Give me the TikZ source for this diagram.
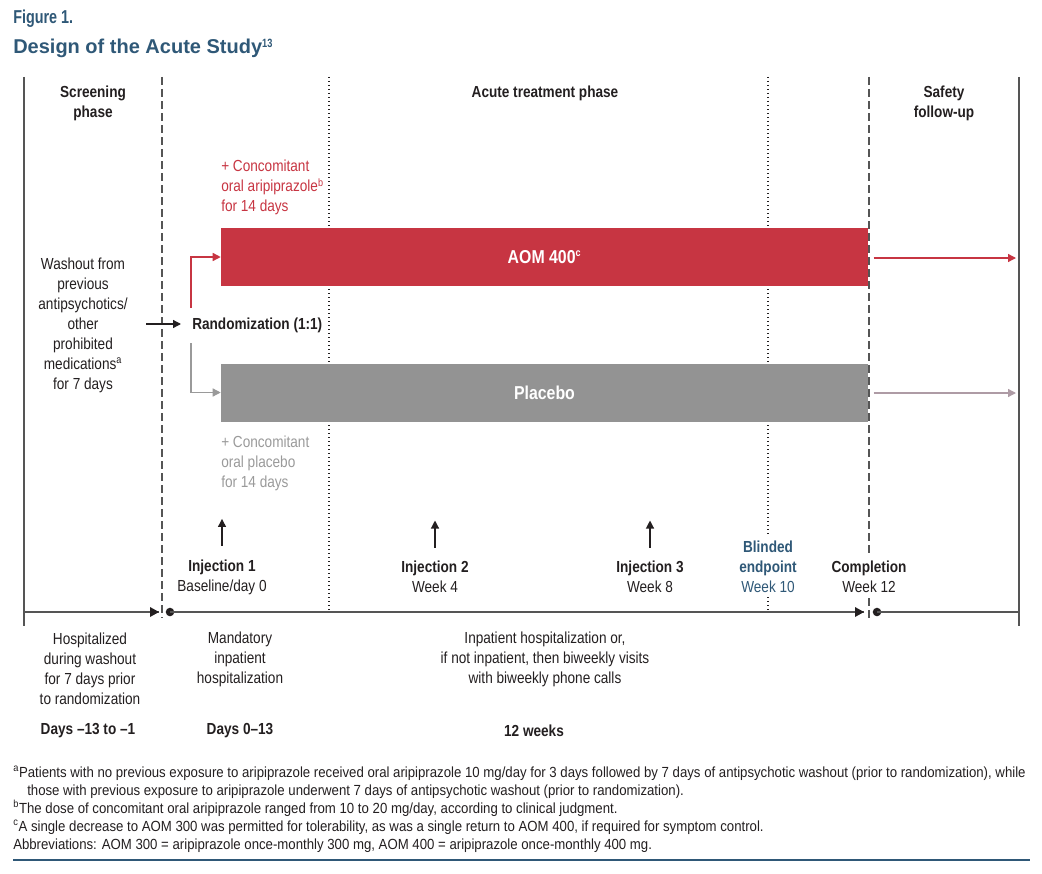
\documentclass[tikz,border=0pt]{standalone}
\usepackage{fontspec}
\setmainfont{Liberation Sans}[FakeStretch=0.85]
\newfontfamily\fnfont{Liberation Sans}[FakeStretch=0.9]
\newfontfamily\figfont{Liberation Sans}[FakeStretch=0.77]
\newfontfamily\ttlfont{Liberation Sans}
\usetikzlibrary{arrows.meta}
\definecolor{navy}{HTML}{2F5877}
\definecolor{aomred}{HTML}{C73542}
\definecolor{plgray}{HTML}{939393}
\definecolor{txt}{HTML}{231F20}
\definecolor{mauve}{HTML}{AE9BA5}
\definecolor{lgray}{HTML}{9A9A9A}
\definecolor{linec}{HTML}{555555}
\tikzset{
  lbl/.style={align=center, inner sep=0pt, text=txt, font=\fontsize{12}{15}\selectfont},
  hdr/.style={lbl, font=\fontsize{12}{15}\selectfont\bfseries},
  note/.style={align=left, anchor=west, inner sep=0pt, font=\fontsize{12}{15}\selectfont},
  bar/.style={inner sep=0pt, minimum width=485.25pt, minimum height=43.5pt, text=white, font=\fontsize{14}{15}\selectfont\bfseries},
  dashv/.style={linec, line width=1.2pt, dash pattern=on 6pt off 3pt},
  dotv/.style={txt, line width=1.3pt, dash pattern=on 0.9pt off 2.1pt},
  solidv/.style={linec, line width=1.5pt},
  tip/.style={-{Triangle[length=6pt,width=6pt]}},
  inj/.style={txt, line width=0.9pt, -{Triangle[length=6pt,width=6pt]}},
  fn/.style={anchor=base west, inner sep=0pt, text=txt, font=\fontsize{11}{13.5}\selectfont\fnfont}
}
\begin{document}
\begin{tikzpicture}[x=0.75pt,y=-0.75pt]
\useasboundingbox (0,0) rectangle (1042,874);
% title
\node[anchor=base west, inner sep=0pt, text=navy, font=\fontsize{14}{16}\selectfont\figfont\bfseries] (fig) at (13,24) {Figure 1.};
\node[anchor=base west, inner sep=0pt, text=navy, font=\fontsize{15}{18}\selectfont\ttlfont\bfseries] (ttl) at (13,54) {Design of the Acute Study\textsuperscript{\fontsize{9}{10}\selectfont\figfont 13}};
% vertical lines
\draw[solidv] (24,77) -- (24,626);
\draw[solidv] (1019,77) -- (1019,626);
\draw[dashv] (162,77) -- (162,618);
\draw[dashv] (869,77) -- (869,553);
\draw[dashv] (869,598) -- (869,618);
\draw[dotv] (329,77) -- (329,612);
\draw[dotv] (768,77) -- (768,534);
\draw[dotv] (768,597) -- (768,612);
% headers
\node[hdr] (scr) at (93,103) {Screening\\phase};
\node[hdr] (act) at (545,93) {Acute treatment phase};
\node[hdr] (saf) at (944,103) {Safety\\follow-up};
% concomitant texts
\node[note, text=aomred, anchor=north west] (conr) at (221,160) {+ Concomitant\\oral aripiprazole\textsuperscript{b}\\for 14 days};
\node[note, text=lgray, anchor=north west] (cong) at (221,436) {+ Concomitant\\oral placebo\\for 14 days};
% bars
\node[bar, fill=aomred] (aom) at (544.5,257) {AOM 400\textsuperscript{\fontsize{8}{8}\selectfont c}};
\node[bar, fill=plgray] (plc) at (544.5,392.5) {Placebo};
% washout
\node[lbl] (wash) at (83,325) {Washout from\\previous\\antipsychotics/\\other\\prohibited\\medications\textsuperscript{a}\\for 7 days};
\node[hdr, anchor=west] (rand) at (192,325) {Randomization (1:1)};
\coordinate (wa) at (146,324);
\draw[txt, line width=1pt, tip] (wa) -- (181,324);
\coordinate (bu) at (191,308);
\coordinate (bd) at (191,343);
\draw[aomred, line width=1pt, tip] (bu) |- (aom.west);
\draw[lgray, line width=1pt, tip] (bd) |- (plc.west);
\coordinate (aomend) at (1016,258);
\coordinate (plcend) at (1016,393);
\draw[aomred, line width=1pt, tip] ([xshift=4pt]aom.east |- aomend) -- (aomend);
\draw[mauve, line width=1pt, tip] ([xshift=4pt]plc.east |- plcend) -- (plcend);
% injections
\node[lbl] (inj1) at (222,577) {\textbf{Injection 1}\\Baseline/day 0};
\node[lbl] (inj2) at (435,577) {\textbf{Injection 2}\\Week 4};
\node[lbl] (inj3) at (650,577) {\textbf{Injection 3}\\Week 8};
\node[lbl, text=navy] (blind) at (768,567) {\textbf{Blinded}\\\textbf{endpoint}\\Week 10};
\node[lbl] (comp) at (869,577) {\textbf{Completion}\\Week 12};
\draw[inj] ([yshift=10pt]inj1.north) -- ++(0,-27);
\draw[inj] ([yshift=10pt]inj2.north) -- ++(0,-27);
\draw[inj] ([yshift=10pt]inj3.north) -- ++(0,-27);
% axis
\coordinate (a0) at (24,612);
\coordinate (a1) at (159,612);
\coordinate (d1) at (170,612);
\coordinate (a2) at (864,612);
\coordinate (d2) at (877,612);
\coordinate (a3) at (1019,612);
\draw[linec, line width=1.3pt] (a0) -- (a1);
\fill[txt] (a1) -- ++(-9,-5) -- ++(0,10) -- cycle;
\fill[txt] (d1) circle (3.2pt);
\draw[linec, line width=1.3pt] (d1) -- (a2);
\fill[txt] (a2) -- ++(-9,-5) -- ++(0,10) -- cycle;
\fill[txt] (d2) circle (3.2pt);
\draw[linec, line width=1.3pt] (d2) -- (a3);
% below axis
\node[lbl] (hosp) at (90,669) {Hospitalized\\during washout\\for 7 days prior\\to randomization};
\node[lbl] (mand) at (240,659) {Mandatory\\inpatient\\hospitalization};
\node[lbl] (inpt) at (545,659) {Inpatient hospitalization or,\\if not inpatient, then biweekly visits\\with biweekly phone calls};
\node[hdr] (dur1) at (88,731) {Days --13 to --1};
\node[hdr] (dur2) at (240,731) {Days 0--13};
\node[hdr] (dur3) at (534,731) {12 weeks};
% footnotes
\node[fn] (f1) at (13,777) {\textsuperscript{a}Patients with no previous exposure to aripiprazole received oral aripiprazole 10 mg/day for 3 days followed by 7 days of antipsychotic washout (prior to randomization), while};
\node[fn] (f2) at (27,795) {those with previous exposure to aripiprazole underwent 7 days of antipsychotic washout (prior to randomization).};
\node[fn] (f3) at (13,813) {\textsuperscript{b}The dose of concomitant oral aripiprazole ranged from 10 to 20 mg/day, according to clinical judgment.};
\node[fn] (f4) at (13,831) {\textsuperscript{c}A single decrease to AOM 300 was permitted for tolerability, as was a single return to AOM 400, if required for symptom control.};
\node[fn] (f5) at (13,849) {Abbreviations: AOM 300 = aripiprazole once-monthly 300 mg, AOM 400 = aripiprazole once-monthly 400 mg.};
\draw[navy, line width=1pt] (13,860) -- (1030,860);
\end{tikzpicture}
\end{document}
